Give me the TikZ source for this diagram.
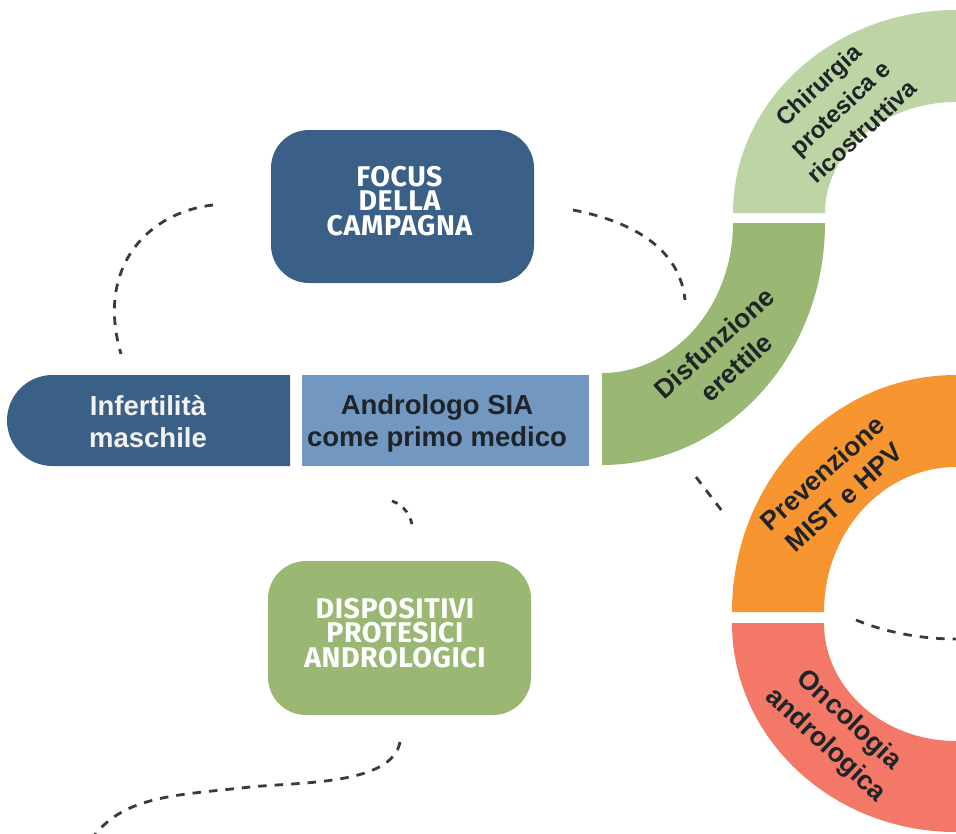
\documentclass[tikz,border=0pt]{standalone}
\usepackage{fontspec}
\setmainfont{Liberation Sans}
\newfontfamily\dinfont[LetterSpace=2]{Fira Sans}
\definecolor{darkblue}{HTML}{3B6087}
\definecolor{lightblue}{HTML}{7298C2}
\definecolor{midgreen}{HTML}{9AB873}
\definecolor{palegreen}{HTML}{BDD4A4}
\definecolor{orangeband}{HTML}{F79531}
\definecolor{redband}{HTML}{F47868}
\definecolor{inktext}{HTML}{1F2428}
\definecolor{dashink}{HTML}{3A3A3E}
\tikzset{
  x=1pt,y=-1pt,
  bandtext/.style={font=\bfseries\fontsize{26.5}{33}\selectfont,text=inktext,align=center,inner sep=0pt},
  bartext/.style={font=\bfseries\fontsize{27.5}{32}\selectfont,align=center,inner sep=0pt},
  boxtext/.style={font=\dinfont\bfseries\fontsize{28.5}{24.5}\selectfont,text=white,align=center,inner sep=0pt},
  card/.style={rounded corners=38pt},
  trail/.style={draw=dashink,line width=2.8pt,dash pattern=on 8.5pt off 8pt},
}
\begin{document}
\begin{tikzpicture}
\useasboundingbox (0,0) rectangle (956,833);
% bands
\fill[palegreen] (733,213) .. controls (733,101) and (833,10) .. (956,10) -- (956,102)
  .. controls (884,102) and (825,152) .. (825,213) -- cycle;
\fill[midgreen] (733,223) .. controls (733,306) and (674,373) .. (602,373) -- (602,465)
  .. controls (725,465) and (825,357) .. (825,223) -- cycle;
\fill[orangeband] (732,612) .. controls (732,481) and (832,375) .. (956,375) -- (956,467)
  .. controls (883,467) and (824,532) .. (824,612) -- cycle;
\fill[redband] (732,623) .. controls (732,738) and (832,832) .. (956,832) -- (956,741)
  .. controls (883,741) and (824,688) .. (824,623) -- cycle;
% bars
\fill[darkblue] (290,375) -- (52.5,375) .. controls (27.4,375) and (7,395.4) .. (7,420.5)
  .. controls (7,445.6) and (27.4,466) .. (52.5,466) -- (290,466) -- cycle;
\fill[lightblue] (302,375) rectangle (589,466);
% cards
\fill[darkblue,card] (271,130) rectangle (534,283);
\fill[midgreen,card] (268,561) rectangle (531,715);
% texts
\node[bartext,text=white!95!black] (infert) at (148,421.5) {Infertilit\`a\\maschile};
\node[bartext,text=inktext] (androl) at (437,423.5) {Andrologo SIA\\come primo medico};
\node[boxtext] (focus) at (399.5,201) {FOCUS\\DELLA\\CAMPAGNA};
\node[boxtext] (dispo) at (395,633) {DISPOSITIVI\\PROTESICI\\ANDROLOGICI};
\node[bandtext,font=\bfseries\fontsize{24}{32}\selectfont,rotate=43] (chir) at (840,108) {Chirurgia\\protesica e\\ricostruttiva};
\node[bandtext,rotate=42] (disf) at (725,355) {Disfunzione\\erettile};
\node[bandtext,rotate=42] (prev) at (833,485) {Prevenzione\\MIST e HPV};
\node[bandtext,font=\bfseries\fontsize{27}{34}\selectfont,rotate=-43] (onco) at (837,733) {Oncologia\\andrologica};
% dashed trails
\coordinate (a1) at (213,205); \coordinate (a2) at (121,354);
\coordinate (b1) at (573,210); \coordinate (b2) at (685,300);
\coordinate (c1) at (392,501); \coordinate (c2) at (413,531);
\coordinate (d1) at (400,742); \coordinate (d2) at (94,836);
\coordinate (e1) at (696,477); \coordinate (e2) at (722,511);
\coordinate (f1) at (856,620); \coordinate (f2) at (956,639);
\draw[trail] (a1) .. controls (150,212) and (95,265) .. (a2);
\draw[trail] (b1) .. controls (635,222) and (680,250) .. (b2);
\draw[trail,dash pattern=on 6pt off 7pt] (c1) .. controls (404,505) and (412,516) .. (c2);
\draw[trail] (d1) .. controls (392,785) and (300,782) .. (250,787)
  .. controls (180,795) and (125,795) .. (d2);
\draw[trail] (e1) -- (e2);
\draw[trail] (f1) .. controls (885,632) and (920,639) .. (f2);
\end{tikzpicture}
\end{document}
